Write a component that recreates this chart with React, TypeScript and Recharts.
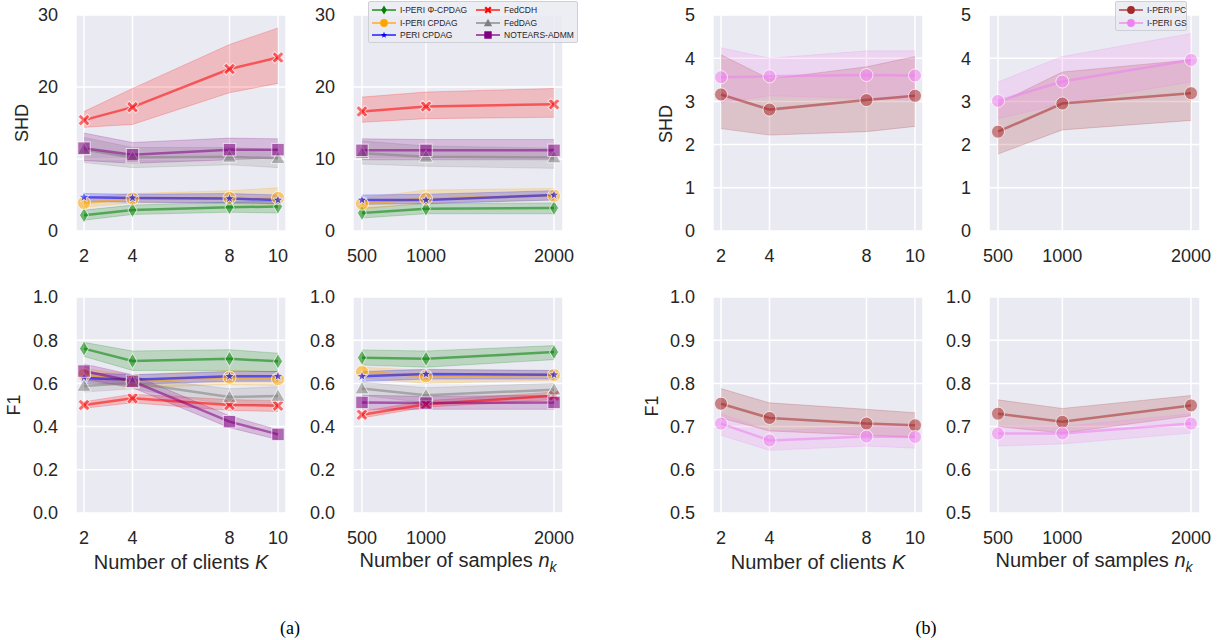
import { ComposedChart, Line, Area, XAxis, YAxis, CartesianGrid } from "recharts";

const FONT = '"Liberation Sans", Arial, sans-serif';
const INK = "#262626";
const BG = "#EAEAF2";

const kValues = [2, 4, 8, 10];
const nValues = [500, 1000, 2000];
const shdTicksA = [0, 10, 20, 30];
const f1TicksA = [0, 0.2, 0.4, 0.6, 0.8, 1.0];
const shdTicksB = [0, 1, 2, 3, 4, 5];
const f1TicksB = [0.5, 0.6, 0.7, 0.8, 0.9, 1.0];

// each point: [mean, ci low, ci high]
// (a) SHD vs number of clients K
const shdK_phi = [[2.2, 1.5, 2.9], [2.9, 2.3, 3.6], [3.3, 2.6, 4.0], [3.4, 2.5, 4.2]];
const shdK_ipc = [[3.9, 3.3, 4.6], [4.5, 3.9, 5.2], [4.6, 3.8, 5.6], [4.6, 3.7, 6.0]];
const shdK_pc = [[4.7, 4.1, 5.2], [4.6, 4.0, 5.1], [4.5, 3.9, 5.2], [4.3, 3.8, 5.0]];
const shdK_cdh = [[15.4, 14.4, 16.6], [17.2, 14.8, 19.8], [22.5, 19.2, 25.9], [24.1, 20.5, 28.2]];
const shdK_dag = [[11.3, 9.5, 13.0], [10.2, 8.8, 11.6], [10.3, 9.2, 11.6], [10.1, 8.8, 11.3]];
const shdK_admm = [[11.5, 9.8, 13.6], [10.6, 9.4, 12.3], [11.3, 9.9, 12.9], [11.3, 10.1, 12.8]];

// (a) SHD vs samples n_k
const shdN_phi = [[2.5, 1.8, 3.2], [3.1, 2.4, 3.8], [3.2, 2.4, 3.9]];
const shdN_ipc = [[3.8, 3.0, 4.6], [4.5, 3.9, 5.7], [4.9, 4.3, 5.9]];
const shdN_pc = [[4.3, 3.7, 5.0], [4.3, 3.8, 5.1], [5.0, 4.3, 5.6]];
const shdN_cdh = [[16.6, 15.1, 18.6], [17.3, 15.6, 19.3], [17.6, 15.8, 19.8]];
const shdN_dag = [[10.8, 9.3, 12.5], [10.3, 9.0, 11.8], [10.2, 8.7, 11.5]];
const shdN_admm = [[11.2, 9.9, 12.8], [11.2, 9.9, 12.7], [11.2, 9.9, 12.7]];

// (a) F1 vs K
const f1K_phi = [[0.761, 0.725, 0.79], [0.704, 0.66, 0.75], [0.714, 0.66, 0.756], [0.702, 0.653, 0.74]];
const f1K_ipc = [[0.64, 0.61, 0.67], [0.61, 0.58, 0.64], [0.627, 0.595, 0.66], [0.62, 0.59, 0.655]];
const f1K_pc = [[0.625, 0.6, 0.65], [0.617, 0.595, 0.64], [0.633, 0.61, 0.655], [0.633, 0.61, 0.655]];
const f1K_cdh = [[0.5, 0.485, 0.515], [0.531, 0.51, 0.55], [0.5, 0.475, 0.525], [0.497, 0.47, 0.52]];
const f1K_dag = [[0.588, 0.56, 0.615], [0.603, 0.575, 0.63], [0.537, 0.5, 0.575], [0.542, 0.5, 0.585]];
const f1K_admm = [[0.657, 0.62, 0.69], [0.61, 0.58, 0.64], [0.423, 0.395, 0.45], [0.364, 0.34, 0.385]];

// (a) F1 vs n_k
const f1N_phi = [[0.719, 0.685, 0.755], [0.714, 0.675, 0.75], [0.745, 0.71, 0.775]];
const f1N_ipc = [[0.653, 0.625, 0.675], [0.633, 0.6, 0.66], [0.639, 0.615, 0.66]];
const f1N_pc = [[0.633, 0.61, 0.655], [0.643, 0.62, 0.665], [0.64, 0.62, 0.66]];
const f1N_cdh = [[0.455, 0.44, 0.47], [0.503, 0.49, 0.52], [0.543, 0.525, 0.56]];
const f1N_dag = [[0.576, 0.545, 0.605], [0.545, 0.51, 0.58], [0.571, 0.54, 0.6]];
const f1N_admm = [[0.512, 0.48, 0.545], [0.509, 0.48, 0.54], [0.512, 0.48, 0.545]];

// (b) I-PERI PC / GS
const shdKB_pc = [[3.16, 2.37, 4.08], [2.81, 2.22, 3.52], [3.03, 2.3, 3.8], [3.13, 2.42, 4.04]];
const shdKB_gs = [[3.56, 2.97, 4.24], [3.58, 3.13, 4.0], [3.61, 3.07, 4.17], [3.6, 3.03, 4.17]];
const shdNB_pc = [[2.3, 1.78, 2.95], [2.95, 2.34, 3.68], [3.19, 2.56, 3.96]];
const shdNB_gs = [[3.01, 2.6, 3.45], [3.46, 2.95, 4.04], [3.96, 3.45, 4.57]];
const f1KB_pc = [[0.753, 0.72, 0.788], [0.72, 0.69, 0.755], [0.707, 0.68, 0.74], [0.703, 0.675, 0.732]];
const f1KB_gs = [[0.707, 0.68, 0.73], [0.668, 0.645, 0.69], [0.677, 0.655, 0.7], [0.676, 0.65, 0.7]];
const f1NB_pc = [[0.73, 0.7, 0.762], [0.711, 0.685, 0.742], [0.749, 0.725, 0.772]];
const f1NB_gs = [[0.684, 0.655, 0.7], [0.684, 0.66, 0.7], [0.707, 0.685, 0.73]];

const methodsA = [
  { key: "phi", name: "I-PERI Φ-CPDAG", color: "#008000", marker: "diamond" },
  { key: "ipc", name: "I-PERI CPDAG", color: "#FFA500", marker: "circle" },
  { key: "pc", name: "PERI CPDAG", color: "#0000FF", marker: "star" },
  { key: "cdh", name: "FedCDH", color: "#FF0000", marker: "x" },
  { key: "dag", name: "FedDAG", color: "#808080", marker: "triangle" },
  { key: "admm", name: "NOTEARS-ADMM", color: "#800080", marker: "square" },
];
const methodsB = [
  { key: "pc", name: "I-PERI PC", color: "#A52A2A", marker: "circle" },
  { key: "gs", name: "I-PERI GS", color: "#EE82EE", marker: "circle" },
];

type Method = { key: string; name: string; color: string; marker: string };

function Marker({ cx, cy, color, kind, s = 1, solid = false }: any) {
  const fo = solid ? 1 : 0.55;
  const st = solid ? "none" : "#fff";
  const common = { fill: color, fillOpacity: fo, stroke: st, strokeOpacity: 0.7, strokeWidth: 1 };
  if (kind === "circle") return <circle cx={cx} cy={cy} r={6.5 * s} {...common} />;
  if (kind === "square") {
    const h = 6.2 * s;
    return <rect x={cx - h} y={cy - h} width={2 * h} height={2 * h} {...common} />;
  }
  if (kind === "triangle") {
    const h = 7 * s;
    return <polygon points={`${cx},${cy - h} ${cx + h},${cy + h * 0.75} ${cx - h},${cy + h * 0.75}`} {...common} />;
  }
  if (kind === "diamond") {
    const w = 4.5 * s, h = 7.5 * s;
    return <polygon points={`${cx},${cy - h} ${cx + w},${cy} ${cx},${cy + h} ${cx - w},${cy}`} {...common} />;
  }
  if (kind === "star") {
    const pts: string[] = [];
    for (let i = 0; i < 10; i++) {
      const r = (i % 2 === 0 ? 5.5 : 2.3) * s;
      const a = -Math.PI / 2 + (i * Math.PI) / 5;
      pts.push(`${cx + r * Math.cos(a)},${cy + r * Math.sin(a)}`);
    }
    return <polygon points={pts.join(" ")} {...common} />;
  }
  // filled X
  const a = 6.5 * s, b = 1.9 * s;
  const p = [[-b, -a], [b, -a], [b, -b], [a, -b], [a, b], [b, b], [b, a], [-b, a], [-b, b], [-a, b], [-a, -b], [-b, -b]];
  return (
    <polygon
      points={p.map(([x, y]) => `${x},${y}`).join(" ")}
      transform={`translate(${cx},${cy}) rotate(45)`}
      {...common}
    />
  );
}

function buildRows(xs: number[], methods: Method[], vals: number[][][]) {
  return xs.map((x, i) => {
    const row: any = { x };
    methods.forEach((m, j) => {
      const [mean, lo, hi] = vals[j][i];
      row[m.key] = mean;
      row[m.key + "_band"] = [lo, hi];
    });
    return row;
  });
}

const tickStyle = { fill: INK, fontSize: 18, fontFamily: FONT };

function Panel({ left, top, w, h, xs, xDomain, yDomain, yTicks, methods, vals, fmt }: any) {
  const rows = buildRows(xs, methods, vals);
  return (
    <div style={{ position: "absolute", left: left - 70, top: top - 15 }}>
      <ComposedChart width={w + 85} height={h + 60} data={rows} margin={{ top: 15, right: 15, left: 0, bottom: 0 }}>
        <CartesianGrid fill={BG} stroke="#fff" strokeWidth={1.5} />
        <XAxis
          type="number" dataKey="x" domain={xDomain} ticks={xs} allowDataOverflow
          axisLine={false} tickLine={false} tickSize={0} tickMargin={18} height={45} tick={tickStyle}
        />
        <YAxis
          type="number" domain={yDomain} ticks={yTicks} allowDataOverflow width={70}
          axisLine={false} tickLine={false} tickSize={0} tickMargin={18} tick={tickStyle} tickFormatter={fmt}
        />
        {methods.map((m: Method) => (
          <Area
            key={m.key + "_band"} type="linear" dataKey={m.key + "_band"}
            fill={m.color} fillOpacity={0.2} stroke={m.color} strokeOpacity={0.2} strokeWidth={1}
            dot={false} activeDot={false} isAnimationActive={false}
          />
        ))}
        {methods.map((m: Method) => (
          <Line
            key={m.key} type="linear" dataKey={m.key}
            stroke={m.color} strokeOpacity={0.55} strokeWidth={2.5}
            dot={(p: any) => <Marker key={m.key + p.index} cx={p.cx} cy={p.cy} color={m.color} kind={m.marker} />}
            activeDot={false} isAnimationActive={false}
          />
        ))}
      </ComposedChart>
    </div>
  );
}

function LegendBox({ left, top, w, methods, cols, colX, rowY }: any) {
  const rows = Math.ceil(methods.length / cols);
  return (
    <div
      style={{
        position: "absolute", left, top, width: w, height: rowY * rows + 3,
        background: "rgba(234,234,242,0.85)", border: "1px solid #cfcfd6", borderRadius: 2,
        fontFamily: FONT, fontSize: 8.5, color: INK,
      }}
    >
      {methods.map((m: Method, i: number) => {
        const c = Math.floor(i / rows);
        const r = i % rows;
        return (
          <div key={m.key} style={{ position: "absolute", left: colX[c], top: 2 + r * rowY, height: rowY, display: "flex", alignItems: "center", whiteSpace: "nowrap" }}>
            <svg width={24} height={10} style={{ marginRight: 4 }}>
              <line x1={0} y1={5} x2={24} y2={5} stroke={m.color} strokeWidth={1.3} />
              <Marker cx={12} cy={5} color={m.color} kind={m.marker} s={0.6} solid />
            </svg>
            <span>{m.name}</span>
          </div>
        );
      })}
    </div>
  );
}

function YTitle({ x, y, text }: any) {
  return (
    <div style={{ position: "absolute", left: x, top: y, transform: "translate(-50%,-50%) rotate(-90deg)", fontFamily: FONT, fontSize: 18, color: INK, whiteSpace: "nowrap" }}>
      {text}
    </div>
  );
}

function XTitle({ x, y, children }: any) {
  return (
    <div style={{ position: "absolute", left: x, top: y, transform: "translate(-50%,-50%)", fontFamily: FONT, fontSize: 20, color: INK, whiteSpace: "nowrap" }}>
      {children}
    </div>
  );
}

const fmtInt = (v: number) => String(v);
const fmt1 = (v: number) => v.toFixed(1);

export default function App() {
  const W = 210, H = 216;
  const T1 = 15, T2 = 297;
  const kDom = [1.67, 10.33];
  const nDom = [430, 2070];
  return (
    <div style={{ position: "absolute", left: 0, top: 0, width: 1226, height: 640, background: "#fff", overflow: "hidden" }}>
      <Panel left={76} top={T1} w={W} h={H} xs={kValues} xDomain={kDom} yDomain={[0, 30]} yTicks={shdTicksA} methods={methodsA}
        vals={[shdK_phi, shdK_ipc, shdK_pc, shdK_cdh, shdK_dag, shdK_admm]} fmt={fmtInt} />
      <Panel left={353} top={T1} w={W} h={H} xs={nValues} xDomain={nDom} yDomain={[0, 30]} yTicks={shdTicksA} methods={methodsA}
        vals={[shdN_phi, shdN_ipc, shdN_pc, shdN_cdh, shdN_dag, shdN_admm]} fmt={fmtInt} />
      <Panel left={76} top={T2} w={W} h={H} xs={kValues} xDomain={kDom} yDomain={[0, 1]} yTicks={f1TicksA} methods={methodsA}
        vals={[f1K_phi, f1K_ipc, f1K_pc, f1K_cdh, f1K_dag, f1K_admm]} fmt={fmt1} />
      <Panel left={353} top={T2} w={W} h={H} xs={nValues} xDomain={nDom} yDomain={[0, 1]} yTicks={f1TicksA} methods={methodsA}
        vals={[f1N_phi, f1N_ipc, f1N_pc, f1N_cdh, f1N_dag, f1N_admm]} fmt={fmt1} />

      <Panel left={713} top={T1} w={W} h={H} xs={kValues} xDomain={kDom} yDomain={[0, 5]} yTicks={shdTicksB} methods={methodsB}
        vals={[shdKB_pc, shdKB_gs]} fmt={fmtInt} />
      <Panel left={989} top={T1} w={211} h={H} xs={nValues} xDomain={nDom} yDomain={[0, 5]} yTicks={shdTicksB} methods={methodsB}
        vals={[shdNB_pc, shdNB_gs]} fmt={fmtInt} />
      <Panel left={713} top={T2} w={W} h={H} xs={kValues} xDomain={kDom} yDomain={[0.5, 1]} yTicks={f1TicksB} methods={methodsB}
        vals={[f1KB_pc, f1KB_gs]} fmt={fmt1} />
      <Panel left={989} top={T2} w={211} h={H} xs={nValues} xDomain={nDom} yDomain={[0.5, 1]} yTicks={f1TicksB} methods={methodsB}
        vals={[f1NB_pc, f1NB_gs]} fmt={fmt1} />

      <LegendBox left={368} top={1} w={208} methods={methodsA} cols={2} colX={[3, 107]} rowY={12.4} />
      <LegendBox left={1115} top={1} w={70} methods={methodsB} cols={1} colX={[3]} rowY={12.6} />

      <YTitle x={22} y={123} text="SHD" />
      <YTitle x={14} y={405} text="F1" />
      <YTitle x={666} y={124} text="SHD" />
      <YTitle x={652} y={406} text="F1" />

      <XTitle x={181} y={562}>Number of clients <i>K</i></XTitle>
      <XTitle x={458} y={562}>Number of samples <i>n</i><sub style={{ fontSize: 14 }}><i>k</i></sub></XTitle>
      <XTitle x={818} y={562}>Number of clients <i>K</i></XTitle>
      <XTitle x={1094} y={562}>Number of samples <i>n</i><sub style={{ fontSize: 14 }}><i>k</i></sub></XTitle>

      <div style={{ position: "absolute", left: 290, top: 628, transform: "translate(-50%,-50%)", fontFamily: '"Liberation Serif", "Times New Roman", serif', fontSize: 18, color: "#000" }}>(a)</div>
      <div style={{ position: "absolute", left: 926, top: 628, transform: "translate(-50%,-50%)", fontFamily: '"Liberation Serif", "Times New Roman", serif', fontSize: 18, color: "#000" }}>(b)</div>
    </div>
  );
}
